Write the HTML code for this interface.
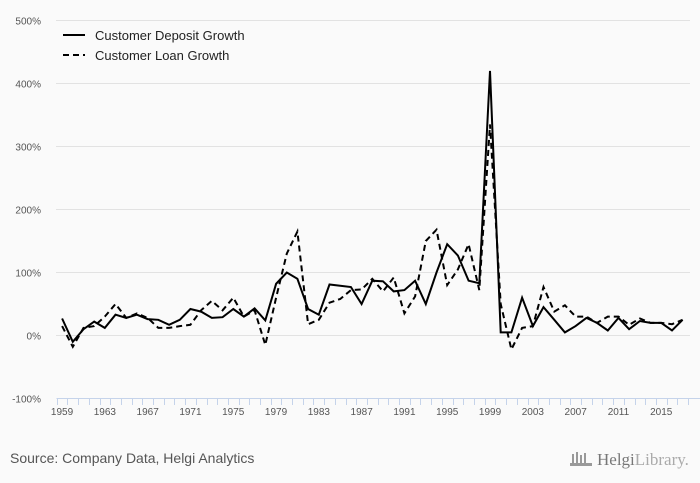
<!DOCTYPE html>
<html><head><meta charset="utf-8"><style>
html,body{margin:0;padding:0;background:#fafafa;}
svg{display:block;font-family:"Liberation Sans",sans-serif;}
</style></head><body>
<svg id="chart" width="700" height="483">
<rect width="700" height="483" fill="#fafafa"/>
<g id="grid"></g><g id="yaxis"></g><g id="xaxis"></g><g id="series"></g>
<g>
<line x1="63" y1="35" x2="85" y2="35" stroke="#000" stroke-width="2"/>
<text x="95" y="40" font-size="13" fill="#222">Customer Deposit Growth</text>
<line x1="63" y1="55" x2="85" y2="55" stroke="#000" stroke-width="2" stroke-dasharray="6,4"/>
<text x="95" y="60" font-size="13" fill="#222">Customer Loan Growth</text>
</g>
<text x="10" y="463" font-size="14" fill="#555">Source: Company Data, Helgi Analytics</text>
<text x="597" y="465" font-size="17" fill="#888" font-family="Liberation Serif, serif"><tspan fill="#777">Helgi</tspan><tspan fill="#aaa">Library.</tspan></text>
<g fill="#999"><rect x="572" y="454" width="2" height="10"/><rect x="576" y="452" width="2" height="12"/><rect x="580" y="455" width="2" height="9"/><rect x="584" y="453" width="2" height="11"/><rect x="570" y="463" width="22" height="3"/></g>
</svg>
<script>
const years = [];
for (let y = 1959; y <= 2017; y++) years.push(y);
const depositGrowth = [27,-10,10,22,12,33,28,33,26,25,17,25,42,38,28,29,42,30,43,24,82,100,90,42,33,81,79,77,50,87,86,70,72,87,50,100,145,127,87,83,420,5,5,60,15,45,25,5,15,28,20,8,28,10,23,20,20,8,25];
const loanGrowth = [15,-18,12,15,30,50,28,35,28,12,12,15,17,40,55,40,60,30,40,-15,60,130,165,18,25,52,58,72,73,90,70,92,35,62,150,168,80,105,145,72,335,50,-22,12,15,77,38,48,30,30,20,30,30,17,27,20,20,18,25];
const yTicks = [-100,0,100,200,300,400,500];
const xTickYears = [1959,1963,1967,1971,1975,1979,1983,1987,1991,1995,1999,2003,2007,2011,2015];

const NS = "http://www.w3.org/2000/svg";
const x0 = 56.7, step = 10.7;
const xPos = i => x0 + step * (i + 0.5);
const yPos = v => 335.5 - v * 0.63;
function mk(tag, attrs, parent) {
  const e = document.createElementNS(NS, tag);
  for (const k in attrs) e.setAttribute(k, attrs[k]);
  parent.appendChild(e);
  return e;
}
const grid = document.getElementById('grid');
const yaxis = document.getElementById('yaxis');
const xaxis = document.getElementById('xaxis');
const series = document.getElementById('series');

yTicks.forEach(v => {
  if (v > -100) {
    const l = mk('line', {x1: 56, x2: 690, y1: yPos(v), y2: yPos(v), stroke: '#e2e2e2', 'stroke-width': 1}, grid);
    
    
  }
  const t = mk('text', {x: 41, y: yPos(v) + 4, 'text-anchor': 'end', 'font-size': 10, fill: '#555'}, yaxis);
  t.textContent = v + '%';
  
  
});

const ax = mk('line', {x1: 56.5, x2: 700, y1: 398.5, y2: 398.5, stroke: '#c5d3ea', 'stroke-width': 1}, xaxis);


for (let i = 0; i <= years.length; i++) {
  const tx = Math.round(x0 + step * i) + 0.5;
  const tk = mk('line', {x1: tx, x2: tx, y1: 398.5, y2: 405, stroke: '#c5d3ea', 'stroke-width': 1}, xaxis);
  
  
}
xTickYears.forEach(yr => {
  const i = years.indexOf(yr);
  const t = mk('text', {x: xPos(i), y: 415, 'text-anchor': 'middle', 'font-size': 10, fill: '#555'}, xaxis);
  t.textContent = yr;
  
  
});

function pathOf(arr) {
  return arr.map((v, i) => (i ? 'L' : 'M') + xPos(i).toFixed(1) + ',' + yPos(v).toFixed(1)).join('');
}
const pl = mk('path', {d: pathOf(loanGrowth), fill: 'none', stroke: '#000', 'stroke-width': 2, 'stroke-dasharray': '6,4'}, series);


const pd = mk('path', {d: pathOf(depositGrowth), fill: 'none', stroke: '#000', 'stroke-width': 2, 'stroke-linejoin': 'miter'}, series);


</script>
</body></html>
